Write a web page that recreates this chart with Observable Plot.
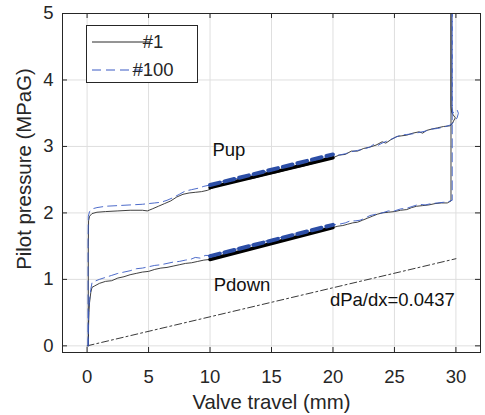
<!DOCTYPE html>
<html>
<head>
<meta charset="utf-8">
<script src="https://cdn.jsdelivr.net/npm/d3@7"></script>
<script src="https://cdn.jsdelivr.net/npm/@observablehq/plot@0.6"></script>
<style>
  html, body { margin: 0; padding: 0; background: #fff; }
  #chart { width: 485px; height: 415px; }
</style>
</head>
<body>
<div id="chart"></div>
<script>
// ---- data ----
const xTicks = [0, 5, 10, 15, 20, 25, 30];
const yTicks = [0, 1, 2, 3, 4, 5];

// trial #1 (black solid): rising branch (Pup) then falling branch (Pdown)
const up1X = [0.1,0.1,0.12,0.2,0.4,0.8,1.5,2.5,3.5,4.5,4.9,5.3,5.8,6.3,6.8,7.3,7.8,8.3,8.8,9.3,9.8,10.5,11.5,12.5,13.5,14.5,15.5,16.5,17.5,18.5,19.5,20,20.5,21,21.5,22,22.5,23,23.5,24,24.3,24.7,25.2,25.6,26,26.5,27,27.3,27.6,28,28.5,29,29.5,29.65,29.95,29.65,29.6,29.6];
const up1Y = [0,1.5,1.88,1.95,1.99,2.01,2.02,2.03,2.04,2.04,2.03,2.06,2.1,2.14,2.18,2.24,2.28,2.3,2.31,2.32,2.34,2.4,2.44,2.49,2.52,2.57,2.61,2.66,2.7,2.75,2.8,2.83,2.87,2.88,2.93,2.93,2.97,2.99,3.02,3.07,3.05,3.1,3.15,3.16,3.17,3.2,3.22,3.2,3.24,3.26,3.28,3.3,3.31,3.33,3.43,3.51,3.6,5.3];
const down1X = [29.6,29.6,29.3,28.8,28.3,27.8,27.3,26.8,26.4,26,25.5,25,24.5,24,23.6,23.2,22.8,22.4,22,21.6,21.2,20.8,20.4,20,19,18,17,16,15,14,13,12,11,10,9.5,9,8.5,8,7.5,7,6.5,6,5.5,5,4.5,4,3.5,3,2.5,2,1.5,1,0.6,0.4,0.3,0.2,0.15,0.12,0.1];
const down1Y = [5.3,2.18,2.15,2.15,2.14,2.12,2.11,2.1,2.08,2.05,2.04,2.02,2.01,2.0,1.98,1.95,1.92,1.89,1.86,1.85,1.83,1.81,1.8,1.78,1.74,1.69,1.64,1.6,1.54,1.5,1.45,1.41,1.35,1.3,1.29,1.27,1.25,1.24,1.22,1.2,1.18,1.17,1.15,1.12,1.11,1.09,1.07,1.04,1.02,0.98,0.97,0.94,0.9,0.88,0.8,0.65,0.5,0.3,0];

// trial #100 (blue dashed)
const up100X = [0.08,0.08,0.1,0.2,0.4,0.8,1.5,2.5,3.5,4.5,5.5,6,6.5,7,7.5,8,8.5,9,9.5,10,11,12,13,14,15,16,17,18,19,20,20.5,21,21.5,22,22.5,23,23.3,23.6,24,24.5,25,25.5,26,26.5,27,27.5,28,28.5,29,29.5,29.8,30.1,30.2,30.1,29.75,29.7,29.7];
const up100Y = [0,1.6,1.95,2.02,2.06,2.08,2.1,2.11,2.12,2.13,2.15,2.16,2.19,2.23,2.28,2.33,2.35,2.37,2.4,2.42,2.47,2.51,2.55,2.6,2.64,2.69,2.73,2.78,2.82,2.87,2.87,2.89,2.92,2.94,2.96,2.99,3.03,3.01,3.05,3.09,3.13,3.17,3.18,3.19,3.21,3.23,3.26,3.27,3.29,3.32,3.36,3.43,3.5,3.55,3.5,3.6,5.3];
const down100X = [29.7,29.7,29.4,29,28.5,28,27.5,27,26.5,26,25.5,25,24.5,24,23.5,23,22.6,22.2,21.8,21.4,21,20.5,20,19,18,17,16,15,14,13,12,11,10,9.6,9.2,8.8,8.4,8,7.5,7,6.5,6,5.5,5,4.5,4,3.5,3,2.5,2,1.5,1,0.6,0.4,0.3,0.2,0.14,0.1,0.08];
const down100Y = [5.3,2.19,2.17,2.16,2.15,2.14,2.12,2.13,2.1,2.07,2.06,2.03,2.03,2.0,1.98,1.96,1.92,1.89,1.88,1.88,1.85,1.83,1.82,1.78,1.73,1.69,1.64,1.6,1.55,1.5,1.45,1.4,1.36,1.36,1.32,1.33,1.3,1.29,1.27,1.26,1.24,1.22,1.21,1.19,1.17,1.16,1.13,1.11,1.09,1.06,1.03,1.0,0.97,0.95,0.85,0.7,0.55,0.3,0];

// linear fits over 10..20 mm
const fitX = [10, 20];
const fitPup1 = [2.38, 2.83];
const fitPup100 = [2.42, 2.88];
const fitPdown1 = [1.30, 1.78];
const fitPdown100 = [1.35, 1.82];

// reference slope line dPa/dx = 0.0437
const slopeX = [0, 30];
const slopeY = [0, 1.311];

// annotations
const labelText = ["Pup", "Pdown", "dPa/dx=0.0437"];
const labelX = [10.2, 10.3, 19.75];
const labelY = [2.95, 0.91, 0.69];

const seriesNames = ["#1", "#100"];

// ---- build tables ----
const toRows = (xs, ys) => xs.map((x, i) => ({x, y: ys[i]}));
const trace1 = toRows(up1X, up1Y).concat(toRows(down1X, down1Y));
const trace100 = toRows(up100X, up100Y).concat(toRows(down100X, down100Y));
const fits1 = [toRows(fitX, fitPup1), toRows(fitX, fitPdown1)];
const fits100 = [toRows(fitX, fitPup100), toRows(fitX, fitPdown100)];
const slope = toRows(slopeX, slopeY);
const labels = labelText.map((t, i) => ({t, x: labelX[i], y: labelY[i]}));

const W = 485, H = 415;
const mL = 62, mR = 5, mT = 13, mB = 63;
const fw = W - mL - mR, fh = H - mT - mB;
const tk = 5;
const ink = "#262626";
const gridC = "#dfdfdf";
const blue = "#3a5bc4";
const blueThick = "#2c4ea6";
const font = "'Liberation Sans', Arial, Helvetica, sans-serif";

const plot = Plot.plot({
  width: W, height: H,
  marginLeft: mL, marginRight: mR, marginTop: mT, marginBottom: mB,
  style: {fontFamily: font, background: "#fff", color: ink},
  x: {domain: [-2, 32]},
  y: {domain: [-0.1, 5]},
  marks: [
    Plot.gridX(xTicks, {stroke: gridC, strokeOpacity: 1, strokeWidth: 1}),
    Plot.gridY(yTicks, {stroke: gridC, strokeOpacity: 1, strokeWidth: 1}),
    Plot.line(slope, {x: "x", y: "y", stroke: "#222", strokeWidth: 0.9, strokeDasharray: "7,3,2,3"}),
    Plot.line(trace1, {x: "x", y: "y", stroke: "#2a2a2a", strokeWidth: 0.9, clip: true}),
    Plot.line(trace100, {x: "x", y: "y", stroke: blue, strokeWidth: 0.9, strokeDasharray: "9,5", clip: true}),
    ...fits1.map(f => Plot.line(f, {x: "x", y: "y", stroke: "#000", strokeWidth: 3.5})),
    ...fits100.map(f => Plot.line(f, {x: "x", y: "y", stroke: blueThick, strokeWidth: 4, strokeDasharray: "10,5"})),
    Plot.text(labels, {x: "x", y: "y", text: "t", textAnchor: "start", lineAnchor: "middle", fontSize: 18.5, fill: "#111"}),
    // inward ticks on all four sides
    Plot.tickX(xTicks, {x: d => d, stroke: ink, insetTop: fh - tk}),
    Plot.tickX(xTicks, {x: d => d, stroke: ink, insetBottom: fh - tk}),
    Plot.tickY(yTicks, {y: d => d, stroke: ink, insetRight: fw - tk}),
    Plot.tickY(yTicks, {y: d => d, stroke: ink, insetLeft: fw - tk}),
    Plot.frame({stroke: ink, strokeWidth: 1}),
    Plot.axisX(xTicks, {tickSize: 0, tickPadding: 17, fontSize: 18.5, fill: ink, label: null, tickFormat: d => String(d)}),
    Plot.axisY(yTicks, {tickSize: 0, tickPadding: 9, fontSize: 18.5, fill: ink, label: null, tickFormat: d => String(d)}),
    Plot.text(["Valve travel (mm)"], {frameAnchor: "bottom", dy: 50, textAnchor: "middle", lineAnchor: "middle", fontSize: 20.4, fill: ink}),
    Plot.text(["Pilot pressure (MPaG)"], {frameAnchor: "left", dx: -38, dy: -14, rotate: -90, textAnchor: "middle", lineAnchor: "middle", fontSize: 20.4, fill: ink})
  ]
});

// legend box (top-left, inside the axes)
const svg = d3.select(plot);
const lg = svg.append("g").attr("font-family", font).attr("font-size", 18.5).attr("fill", ink);
lg.append("rect").attr("x", 86.5).attr("y", 25.5).attr("width", 111).attr("height", 57)
  .attr("fill", "#fff").attr("stroke", ink).attr("stroke-width", 1);
const legStyles = [{stroke: "#2a2a2a", dash: null}, {stroke: blue, dash: "9,5"}];
seriesNames.forEach((name, i) => {
  const yy = 42 + i * 28;
  lg.append("line").attr("x1", 92).attr("x2", 150).attr("y1", yy).attr("y2", yy)
    .attr("stroke", legStyles[i].stroke).attr("stroke-width", 1)
    .attr("stroke-dasharray", legStyles[i].dash);
  lg.append("text").attr("x", 153).attr("y", yy).attr("dy", "0.35em").text(name);
});

document.getElementById("chart").appendChild(plot);
</script>
</body>
</html>
